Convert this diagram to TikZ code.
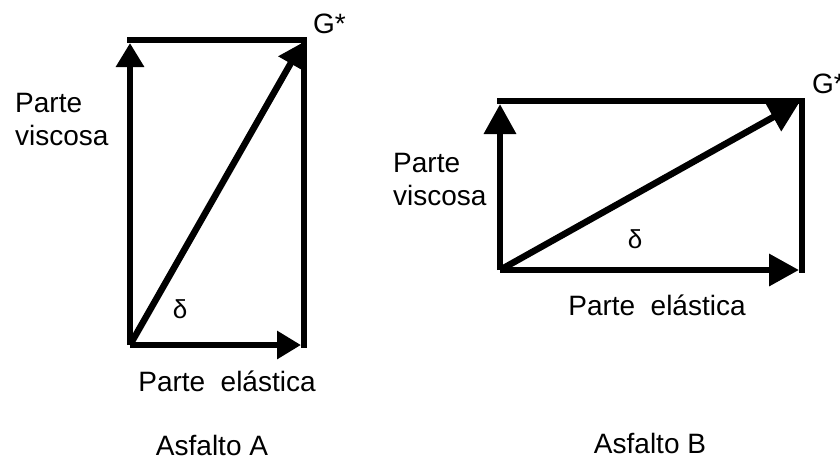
\documentclass[tikz,border=0pt]{standalone}
\usepackage{fontspec}
\setmainfont{Liberation Sans}
\usetikzlibrary{arrows.meta}
\begin{document}
\begin{tikzpicture}[x=1pt,y=-1pt,
  edge/.style={line width=6.5pt, line cap=rect, line join=miter},
  vecA/.style={line width=6.5pt, shorten >=3pt, -{Triangle[length=24pt,width=27pt]}},
  vecB/.style={line width=6.5pt, shorten >=3pt, -{Triangle[length=30pt,width=31pt]}},
  lbl/.style={inner sep=0pt, font=\fontsize{28}{33}\selectfont, anchor=base west},
  lblc/.style={lbl, anchor=base},
  ang/.style={inner sep=0pt, font=\fontsize{26}{30}\selectfont}]
\useasboundingbox (0,0) rectangle (840,461);
% ---- Asfalto A ----
\coordinate (Abl) at (130,345);
\coordinate (Atl) at (130,40);
\coordinate (Atr) at (304,40);
\coordinate (Abr) at (304,345);
\draw[edge] (Atl) -- (Atr) -- (Abr);
\draw[vecA] (Abl) -- (Atl);
\draw[vecA] (Abl) -- (Abr);
\draw[vecA] (Abl) -- (Atr);
\node[lbl] (AG) at (313,33) {G*};
\node[ang] (Ad) at (180,309) {δ};
\node[lbl] (Av1) at (15,112) {Parte};
\node[lbl] (Av2) at (15,145) {viscosa};
\node[lblc] (Ae) at (227,391) {Parte\hspace{0.55em}elástica};
\node[lblc] (AT) at (212,455) {Asfalto A};
% ---- Asfalto B ----
\coordinate (Bbl) at (500,270);
\coordinate (Btl) at (500,101);
\coordinate (Btr) at (802,101);
\coordinate (Bbr) at (802,270);
\draw[edge] (Btl) -- (Btr) -- (Bbr);
\draw[vecB] (Bbl) -- (Btl);
\draw[vecB] (Bbl) -- (Bbr);
\draw[vecB] (Bbl) -- (Btr);
\node[lbl] (BG) at (812,93) {G*};
\node[ang] (Bd) at (635,239) {δ};
\node[lbl] (Bv1) at (393,172) {Parte};
\node[lbl] (Bv2) at (393,205) {viscosa};
\node[lblc] (Be) at (657,315) {Parte\hspace{0.55em}elástica};
\node[lblc] (BT) at (650,453) {Asfalto B};
\end{tikzpicture}
\end{document}
